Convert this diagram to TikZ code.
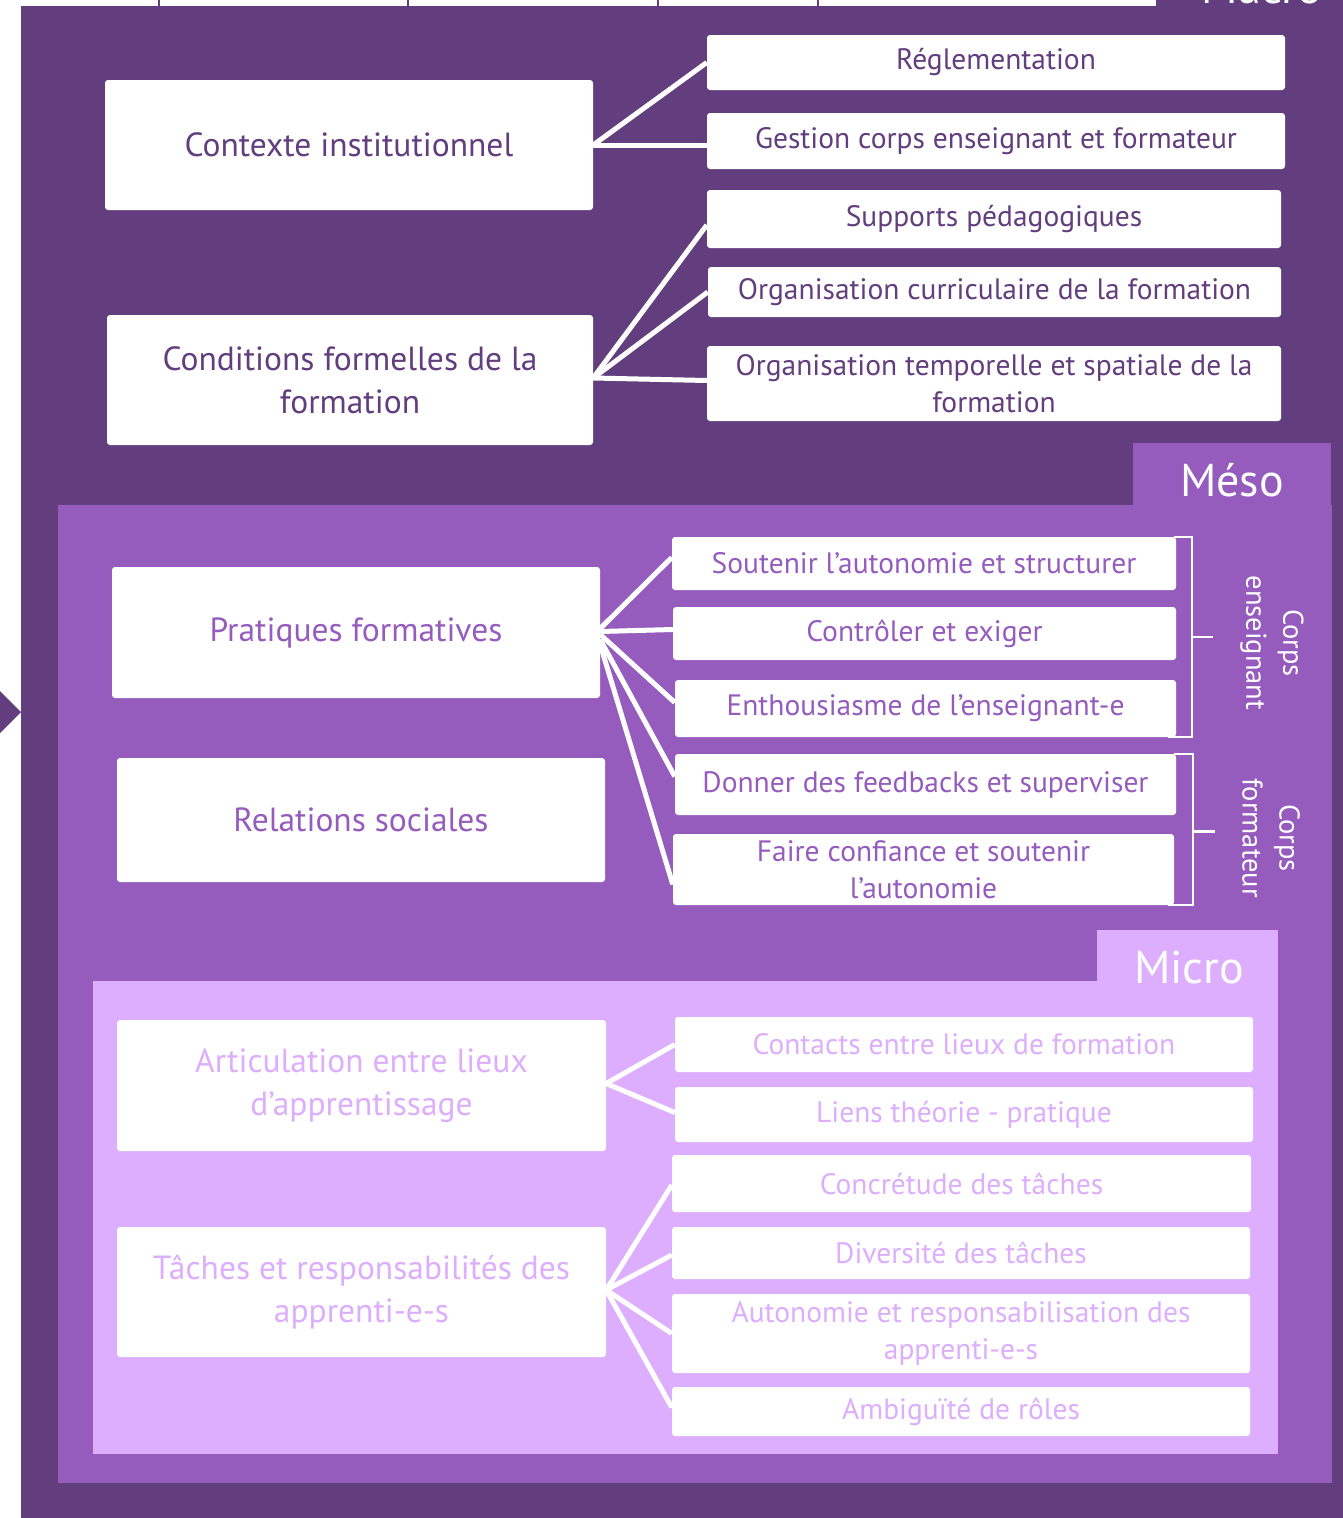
\documentclass[tikz,border=0pt]{standalone}
\usepackage{fontspec}
\setmainfont{PT Sans}
\usetikzlibrary{calc}
\definecolor{macroc}{HTML}{633E7E}
\definecolor{mesoc}{HTML}{955CBE}
\definecolor{microc}{HTML}{DDAEFD}
\tikzset{
  box/.style={fill=white, rounded corners=3pt, inner sep=0pt, align=center},
  smalltxt/.style={font=\fontsize{29.5}{37}\selectfont},
  bigtxt/.style={font=\fontsize{33.5}{43}\selectfont},
  tabtxt/.style={font=\fontsize{46}{50}\selectfont, text=white},
  sidetxt/.style={font=\fontsize{28.5}{37}\selectfont, text=white, align=center, rotate=-90},
  link/.style={draw=white, line width=5pt},
  brack/.style={draw=white, line width=2.5pt},
  macrobox/.style={box, text=macroc},
  mesobox/.style={box, text=mesoc},
  microbox/.style={box, text=microc},
}
\begin{document}
\begin{tikzpicture}[x=1pt,y=-1pt]
\useasboundingbox (0,0) rectangle (1343,1518);
\clip (0,0) rectangle (1343,1518);
% background
\fill[white] (0,0) rectangle (1343,1518);
\fill[macroc] (21,6) rectangle (1343,1518);
\fill[macroc] (1156,0) rectangle (1343,6);
\node[tabtxt, anchor=base] (macrolbl) at (1262,3) {Macro};
\foreach \xx in {159,408,658,818} \draw[macroc, line width=2pt] (\xx,0) -- (\xx,6);
\fill[macroc] (-2,689) -- (21,712) -- (-2,735) -- cycle;
% meso area
\fill[mesoc] (58,505) rectangle (1332,1483);
\fill[mesoc] (1133,443) rectangle (1331,505);
\node[tabtxt] (mesolbl) at (1232,480) {Méso};
% micro area
\fill[microc] (93,981) rectangle (1278,1454);
\fill[microc] (1097,930) rectangle (1278,981);
\node[tabtxt] (microlbl) at (1189,967) {Micro};

% ---------- Macro ----------
\node[macrobox, bigtxt, minimum width=488pt, minimum height=130pt] (ctx) at (349,145) {Contexte institutionnel};
\node[macrobox, bigtxt, minimum width=486pt, minimum height=130pt] (cond) at (350,380) {Conditions formelles de la\\formation};
\node[macrobox, smalltxt, minimum width=578pt, minimum height=55pt] (regl) at (996,62.5) {Réglementation};
\node[macrobox, smalltxt, minimum width=578pt, minimum height=56pt] (gest) at (996,141) {Gestion corps enseignant et formateur};
\node[macrobox, smalltxt, minimum width=574pt, minimum height=58pt] (supp) at (994,219) {Supports pédagogiques};
\node[macrobox, smalltxt, minimum width=573pt, minimum height=50pt] (curr) at (994.5,292) {Organisation curriculaire de la formation};
\node[macrobox, smalltxt, minimum width=574pt, minimum height=75pt] (temp) at (994,383.5) {Organisation temporelle et spatiale de la\\formation};

\draw[link] (ctx.east) -- (regl.west);
\draw[link] (ctx.east) -- ([yshift=-4pt]gest.west);
\draw[link] ([yshift=2pt]cond.east) -- ([yshift=-6pt]supp.west);
\draw[link] ([yshift=2pt]cond.east) -- (curr.west);
\draw[link] ([yshift=2pt]cond.east) -- ([yshift=3pt]temp.west);

% ---------- Meso ----------
\node[mesobox, bigtxt, minimum width=488pt, minimum height=131pt] (prat) at (356,632.5) {Pratiques formatives};
\node[mesobox, bigtxt, minimum width=488pt, minimum height=124pt] (rel) at (361,820) {Relations sociales};
\node[mesobox, smalltxt, minimum width=504pt, minimum height=53pt] (sout) at (924,563.5) {Soutenir l’autonomie et structurer};
\node[mesobox, smalltxt, minimum width=503pt, minimum height=53pt] (ctrl) at (924.5,633.5) {Contrôler et exiger};
\node[mesobox, smalltxt, minimum width=501pt, minimum height=57pt] (enth) at (925.5,708.5) {Enthousiasme de l’enseignant-e};
\node[mesobox, smalltxt, minimum width=501pt, minimum height=61pt] (donn) at (925.5,784.5) {Donner des feedbacks et superviser};
\node[mesobox, smalltxt, minimum width=501pt, minimum height=71pt] (fair) at (923.5,869.5) {Faire confiance et soutenir\\l’autonomie};

\draw[link] ([yshift=4pt]prat.east) -- ([yshift=6pt]sout.west);
\draw[link] ([yshift=1pt]prat.east) -- ([yshift=4pt]ctrl.west);
\draw[link] ([yshift=-2pt]prat.east) -- ([yshift=6pt]enth.west);
\draw[link] ([yshift=-7pt]prat.east) -- ([yshift=8pt]donn.west);
\draw[link] ([yshift=-12pt]prat.east) -- ([yshift=-15pt]fair.west);

% brackets
\draw[brack] ([xshift=-2pt]sout.north east) -- ++(18,0) coordinate (b1t) |- ([xshift=-8pt]enth.south east) coordinate (b1b);
\draw[brack] ($(b1t)!0.5!(b1t|-b1b)$) -- ++(21,0) coordinate (b1m);
\draw[brack] ([xshift=-2pt]donn.north east) -- ++(19,0) coordinate (b2t) |- ([xshift=-6pt]fair.south east) coordinate (b2b);
\draw[brack] ([yshift=-2pt]$(b2t)!0.5!(b2t|-b2b)$) -- ++(22,0) coordinate (b2m);
\node[sidetxt] (ens) at (1272,643) {Corps\\enseignant};
\node[sidetxt] (form) at (1271,838) {Corps\\formateur};

% ---------- Micro ----------
\node[microbox, bigtxt, minimum width=489pt, minimum height=131pt] (art) at (361.5,1085.5) {Articulation entre lieux\\d’apprentissage};
\node[microbox, bigtxt, minimum width=489pt, minimum height=130pt] (tach) at (361.5,1292) {Tâches et responsabilités des\\apprenti-e-s};
\node[microbox, smalltxt, minimum width=578pt, minimum height=55pt] (cont) at (964,1044.5) {Contacts entre lieux de formation};
\node[microbox, smalltxt, minimum width=578pt, minimum height=55pt] (lien) at (964,1114.5) {Liens théorie - pratique};
\node[microbox, smalltxt, minimum width=579pt, minimum height=57pt] (conc) at (961.5,1183.5) {Concrétude des tâches};
\node[microbox, smalltxt, minimum width=578pt, minimum height=52pt] (dive) at (961,1253) {Diversité des tâches};
\node[microbox, smalltxt, minimum width=578pt, minimum height=79pt] (auto) at (961,1333.5) {Autonomie et responsabilisation des\\apprenti-e-s};
\node[microbox, smalltxt, minimum width=578pt, minimum height=49pt] (ambi) at (961,1411.5) {Ambiguïté de rôles};

\draw[link] ([yshift=2pt]art.east) -- (cont.west);
\draw[link] ([yshift=2pt]art.east) -- ([yshift=2pt]lien.west);
\draw[link] ([yshift=2pt]tach.east) -- ([yshift=-1.5pt]conc.west);
\draw[link] ([yshift=2pt]tach.east) -- ([yshift=-2pt]dive.west);
\draw[link] ([yshift=2pt]tach.east) -- (auto.west);
\draw[link] ([yshift=2pt]tach.east) -- ([yshift=4pt]ambi.west);
\end{tikzpicture}
\end{document}
